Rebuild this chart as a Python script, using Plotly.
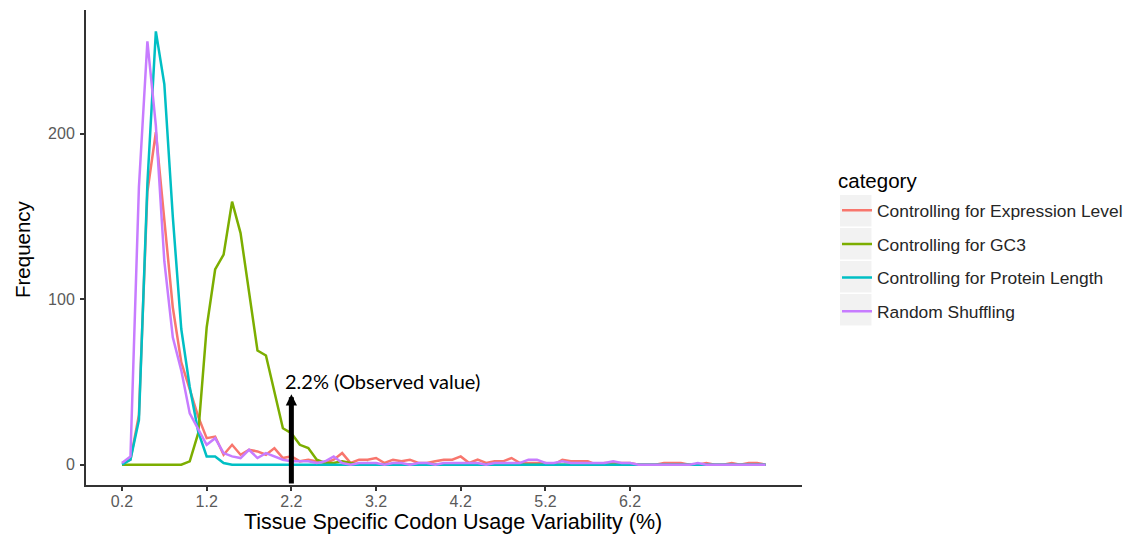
import plotly.graph_objects as go

# ---------------- data ----------------
x_vals = [round(0.2 + 0.1 * i, 1) for i in range(77)]  # bin positions 0.2 .. 7.8

expression_level = [1, 3, 30, 165, 201, 150, 95, 62, 45, 29,
                     16, 17, 6, 12, 6, 9, 8, 6, 10, 4,
                     5, 2, 3, 2, 1, 3, 7, 1, 3, 3,
                     4, 1, 3, 2, 3, 1, 1, 2, 3, 3,
                     5, 1, 3, 1, 2, 2, 4, 1, 1, 1,
                     1, 0, 3, 2, 2, 2, 0, 1, 1, 1,
                     1, 0, 0, 0, 1, 1, 1, 0, 0, 1,
                     0, 0, 1, 0, 1, 1, 0]

gc3 = [0, 0, 0, 0, 0, 0, 0, 0, 2, 19,
       83, 118, 127, 159, 140, 104, 69, 66, 44, 22,
       19, 12, 10, 3, 1, 1, 2, 1, 0, 1,
       0, 0, 0, 0, 0, 0, 0, 0, 0, 0,
       0, 0, 0, 0, 0, 0, 0, 0, 0, 0,
       0, 0, 0, 0, 0, 0, 0, 0, 0, 0,
       0, 0, 0, 0, 0, 0, 0, 0, 0, 0,
       0, 0, 0, 0, 0, 0, 0]

protein_length = [0, 3, 27, 170, 262, 230, 150, 82, 47, 20,
                  5, 5, 1, 0, 0, 0, 0, 0, 0, 0,
                  0, 0, 0, 0, 0, 0, 0, 0, 0, 0,
                  0, 0, 0, 0, 0, 0, 0, 0, 0, 0,
                  0, 0, 0, 0, 0, 0, 0, 0, 0, 0,
                  0, 0, 0, 0, 0, 0, 0, 0, 0, 0,
                  0, 0, 0, 0, 0, 0, 0, 0, 0, 0,
                  0, 0, 0, 0, 0, 0, 0]

random_shuffling = [1, 5, 168, 256, 205, 123, 77, 57, 31, 21,
                    12, 16, 7, 5, 4, 9, 4, 7, 5, 3,
                    2, 2, 2, 1, 2, 5, 1, 0, 1, 1,
                    1, 0, 1, 1, 0, 1, 1, 0, 1, 1,
                    1, 1, 1, 0, 1, 1, 1, 1, 3, 3,
                    1, 1, 2, 1, 1, 1, 1, 1, 2, 1,
                    1, 0, 0, 0, 0, 0, 0, 0, 1, 0,
                    0, 0, 0, 0, 0, 0, 0]

series_names = ["Controlling for Expression Level", "Controlling for GC3",
                "Controlling for Protein Length", "Random Shuffling"]
series_values = [expression_level, gc3, protein_length, random_shuffling]
series_colors = ["#F8766D", "#7CAE00", "#00BFC4", "#C77CFF"]

x_tick_vals = [0.2, 1.2, 2.2, 3.2, 4.2, 5.2, 6.2]
x_tick_text = ["0.2", "1.2", "2.2", "3.2", "4.2", "5.2", "6.2"]
y_tick_vals = [0, 100, 200]

observed_value = 2.2
observed_label = "2.2% (Observed value)"

x_title = "Tissue Specific Codon Usage Variability (%)"
y_title = "Frequency"
legend_title = "category"

# ---------------- figure ----------------
FONT = "Liberation Sans"
OFF = 8                       # page body margin of the html page
ML, MT = 86 - OFF, 10 - OFF   # plot area in page pixels: x 86..802, y 10..485
PW, PH = 716, 475
W, H = 1133 - OFF, 544 - OFF
MR, MB = W - ML - PW, H - MT - PH

def px2paper_x(px):
    return (px - OFF - ML) / PW

def py2paper_y(py):
    return 1 - (py - OFF - MT) / PH

fig = go.Figure()
for i, (name, vals, col) in enumerate(zip(series_names, series_values, series_colors)):
    fig.add_trace(go.Scatter(x=x_vals, y=vals, mode="lines", name=name,
                             legendgroup=f"g{i}",
                             line=dict(color=col, width=2.5)))

X_RANGE = [-0.225, 8.23]
Y_RANGE = [-12.3, 274.9]

fig.update_layout(
    width=W, height=H,
    margin=dict(l=ML, r=MR, t=MT, b=MB, autoexpand=False),
    paper_bgcolor="white", plot_bgcolor="white",
    font=dict(family=FONT, color="#000000"),
    legend=dict(
        font=dict(size=17.4, color="#262626", family=FONT),
        x=px2paper_x(837), xanchor="left", y=py2paper_y(192.5), yanchor="top",
        bgcolor="rgba(0,0,0,0)", tracegroupgap=8,
    ),
    xaxis=dict(range=X_RANGE, tickvals=x_tick_vals, ticktext=x_tick_text,
               showgrid=False, zeroline=False, showline=True, automargin=False,
               linecolor="#333333", linewidth=2, ticks="outside", ticklen=4,
               tickwidth=1.5, tickcolor="#333333", ticklabelstandoff=-3,
               tickfont=dict(size=16, color="#5a5a5a", family=FONT)),
    yaxis=dict(range=Y_RANGE, tickvals=y_tick_vals,
               showgrid=False, zeroline=False, showline=True, automargin=False,
               linecolor="#333333", linewidth=2, ticks="outside", ticklen=4,
               tickwidth=1.5, tickcolor="#333333", ticklabelstandoff=2,
               tickfont=dict(size=16, color="#5a5a5a", family=FONT)),
    showlegend=True,
)

# legend title
fig.add_annotation(x=px2paper_x(836), y=py2paper_y(180), xref="paper", yref="paper",
                   text=legend_title, showarrow=False, xanchor="left", yanchor="middle",
                   font=dict(size=20.5, color="#000000", family=FONT))

# axis titles
fig.add_annotation(x=px2paper_x(453), y=py2paper_y(522), xref="paper", yref="paper",
                   text=x_title, showarrow=False, xanchor="center", yanchor="middle",
                   font=dict(size=21.5, color="#000000", family=FONT))
fig.add_annotation(x=px2paper_x(22), y=py2paper_y(249), xref="paper", yref="paper",
                   text=y_title, showarrow=False, xanchor="center", yanchor="middle",
                   textangle=-90, font=dict(size=20.5, color="#000000", family=FONT))

# grey legend key backgrounds (ggplot style)
for i in range(len(series_names)):
    top = 195 + 33 * i
    fig.add_shape(type="rect", xref="paper", yref="paper",
                  x0=px2paper_x(840), x1=px2paper_x(871.5),
                  y0=py2paper_y(top + 31.5), y1=py2paper_y(top),
                  fillcolor="#F2F2F2", line=dict(width=0), layer="above")

# observed value arrow
fig.add_annotation(x=observed_value, y=42.5, xref="x", yref="y",
                   ax=observed_value, ay=Y_RANGE[0], axref="x", ayref="y",
                   text="", showarrow=True, arrowhead=2, arrowsize=0.45,
                   arrowwidth=5, arrowcolor="#000000", standoff=0, startstandoff=0)
fig.add_annotation(x=2.101, y=50.8, xref="x", yref="y", text=observed_label,
                   showarrow=False, xanchor="left", yanchor="middle",
                   font=dict(family="Lato", size=20, color="#000000"))

fig.write_html("out.html")
